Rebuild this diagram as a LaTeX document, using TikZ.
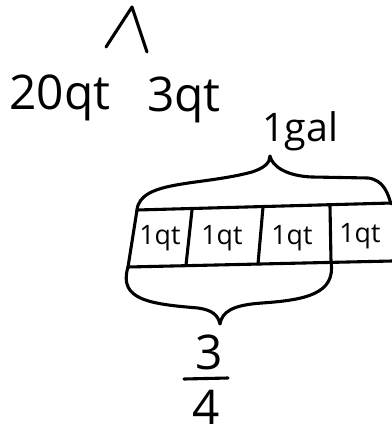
\documentclass[tikz,border=0pt]{standalone}
\usepackage{fontspec}
\setmainfont{Open Sans}
\usetikzlibrary{positioning}

\tikzset{
  pen/.style={line width=2.2pt, line cap=round, line join=round},
  hand/.style={inner sep=0pt, font=\fontsize{34}{36}\selectfont},
  cell/.style={inner sep=0pt, font=\fontsize{19}{21}\selectfont},
}

\begin{document}
\begin{tikzpicture}[x=0.025cm, y=-0.025cm]
\useasboundingbox (0,0) rectangle (392,439);

% caret
\draw[pen] (106,47) -- (132,7) -- (147,52);

% top labels
\node[hand] (twenty) at (60,98) {20qt};
\node[hand] (three) at (184,100) {3qt};

% gallon label
\node[hand, font=\fontsize{28}{30}\selectfont, anchor=base] (gal) at (300,141) {1gal};

% bar corners
\coordinate (tl) at (137,210);
\coordinate (tr) at (392,203);
\coordinate (bl) at (128,267);
\coordinate (br) at (392,261);

% bar
\draw[pen] (tl) -- (tr);
\draw[pen] (bl) -- (br);
\draw[pen] (tl) -- (bl);
\draw[pen] (192,210) -- (186,265);
\draw[pen] (263,207) -- (258,264);
\draw[pen] (330,206) -- (331,262);

% cells
\node[cell] (qtA) at (160,238) {1qt};
\node[cell] (qtB) at (222,238) {1qt};
\node[cell] (qtC) at (292,238) {1qt};
\node[cell] (qtD) at (360,236) {1qt};

% top brace
\draw[pen] (tl) .. controls (140,180) and (200,186) .. (252,172)
  .. controls (264,168) and (270,163) .. (270,156)
  .. controls (272,166) and (286,176) .. (312,177)
  -- (368,178) .. controls (384,180) and (388,194) .. (391,204);

% bottom brace
\draw[pen] (bl) .. controls (118,300) and (150,304) .. (198,308)
  .. controls (212,310) and (218,315) .. (220,324)
  .. controls (222,312) and (232,305) .. (262,303)
  .. controls (305,300) and (336,294) .. (331,262);

% three quarters
\node[hand, anchor=base] (num) at (209,369) {3};
\node[hand, anchor=base] (den) at (206,424) {4};
\draw[pen] (184,379) -- (228,378);

\end{tikzpicture}
\end{document}
